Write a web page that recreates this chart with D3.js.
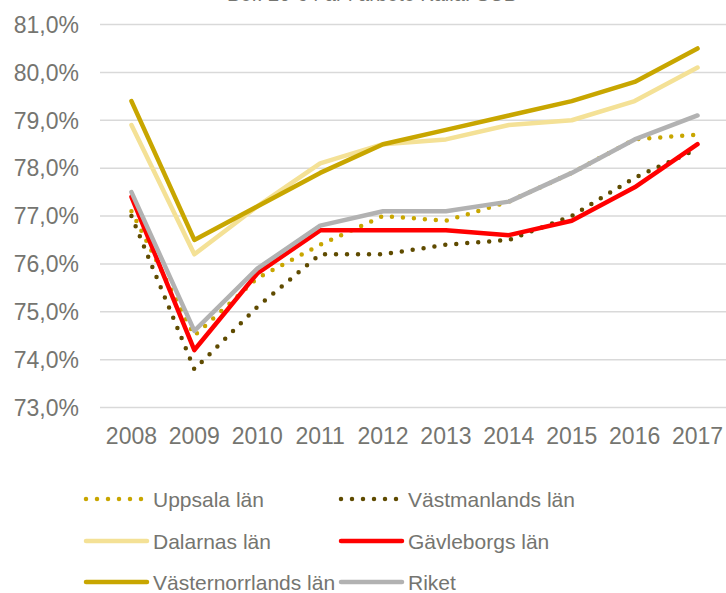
<!DOCTYPE html>
<html>
<head>
<meta charset="utf-8">
<script src="https://cdn.jsdelivr.net/npm/d3@7"></script>
<style>
  body { margin: 0; background: #fff; }
  svg { display: block; font-family: "Liberation Sans", Arial, sans-serif; }
</style>
</head>
<body>
<svg width="726" height="593"></svg>
<script>
  // years on the x axis
  const years = ['2008', '2009', '2010', '2011', '2012', '2013', '2014', '2015', '2016', '2017'];

  // series values (percent)
  const uppsala = [77.1, 74.5, 75.7, 76.4, 77.0, 76.9, 77.3, 77.9, 78.6, 78.7];
  const vastmanland = [77.0, 73.8, 75.1, 76.2, 76.2, 76.4, 76.5, 77.0, 77.8, 78.4];
  const dalarna = [78.9, 76.2, 77.2, 78.1, 78.5, 78.6, 78.9, 79.0, 79.4, 80.1];
  const gavleborg = [77.4, 74.2, 75.8, 76.7, 76.7, 76.7, 76.6, 76.9, 77.6, 78.5];
  const vasternorrland = [79.4, 76.5, 77.2, 77.9, 78.5, 78.8, 79.1, 79.4, 79.8, 80.5];
  const riket = [77.5, 74.6, 75.9, 76.8, 77.1, 77.1, 77.3, 77.9, 78.6, 79.1];

  const yTicks = [73, 74, 75, 76, 77, 78, 79, 80, 81];

  const series = [
    { name: 'Uppsala län', values: uppsala, color: '#c8a600', dotted: true },
    { name: 'Västmanlands län', values: vastmanland, color: '#5f4b00', dotted: true },
    { name: 'Dalarnas län', values: dalarna, color: '#f4e196', dotted: false },
    { name: 'Gävleborgs län', values: gavleborg, color: '#ff0000', dotted: false },
    { name: 'Västernorrlands län', values: vasternorrland, color: '#c8a600', dotted: false },
    { name: 'Riket', values: riket, color: '#b2b2b2', dotted: false }
  ];

  const svg = d3.select('svg');
  const textColor = '#757570';

  const x = d3.scalePoint().domain(years).range([100, 729]).padding(0.5);
  const y = d3.scaleLinear().domain([73, 81]).range([407.5, 24.5]);

  // title, mostly outside the top edge like in the picture
  svg.append('text')
    .attr('x', 372)
    .attr('y', 1)
    .attr('text-anchor', 'middle')
    .attr('fill', textColor)
    .style('font-size', '20px')
    .text('Bef. 20-64 år i arbete Källa: SCB');

  // grid lines
  svg.append('g')
    .selectAll('line')
    .data(yTicks)
    .enter().append('line')
      .attr('x1', 100)
      .attr('x2', 726)
      .attr('y1', d => y(d))
      .attr('y2', d => y(d))
      .attr('stroke', '#d9d9d9')
      .attr('stroke-width', 1.5);

  // y axis labels
  svg.append('g')
    .selectAll('text')
    .data(yTicks)
    .enter().append('text')
      .attr('x', 79)
      .attr('y', d => y(d))
      .attr('dy', '0.36em')
      .attr('text-anchor', 'end')
      .attr('fill', textColor)
      .style('font-size', '23px')
      .text(d => d.toFixed(1).replace('.', ',') + '%');

  // x axis labels
  svg.append('g')
    .selectAll('text')
    .data(years)
    .enter().append('text')
      .attr('x', d => x(d))
      .attr('y', 444)
      .attr('text-anchor', 'middle')
      .attr('fill', textColor)
      .style('font-size', '23px')
      .text(d => d);

  const line = d3.line()
    .x((d, i) => x(years[i]))
    .y(d => y(d));

  // style a path as solid or round-dotted
  const styleLine = (sel, s) => {
    sel.attr('fill', 'none')
      .attr('stroke', s.color)
      .attr('stroke-width', 4.5)
      .attr('stroke-linecap', 'round')
      .attr('stroke-linejoin', 'round')
      .attr('stroke-dasharray', s.dotted ? '0 11' : null);
  };

  // lines, drawn in series order
  const linesG = svg.append('g');
  series.forEach(s => {
    linesG.append('path')
      .attr('d', line(s.values))
      .call(styleLine, s);
  });

  // legend, two columns
  const legendCols = [86, 341];
  const legendRows = [499, 541, 582];
  const legendG = svg.append('g');
  series.forEach((s, i) => {
    const lx = legendCols[i % 2];
    const ly = legendRows[Math.floor(i / 2)];
    const g = legendG.append('g').attr('transform', `translate(${lx},${ly})`);
    g.append('path')
      .attr('d', s.dotted ? 'M0,0L59,0' : 'M0,0L61,0')
      .call(styleLine, s);
    g.append('text')
      .attr('x', 67)
      .attr('y', 0)
      .attr('dy', '0.36em')
      .attr('fill', textColor)
      .style('font-size', '21px')
      .text(s.name);
  });
</script>
</body>
</html>
